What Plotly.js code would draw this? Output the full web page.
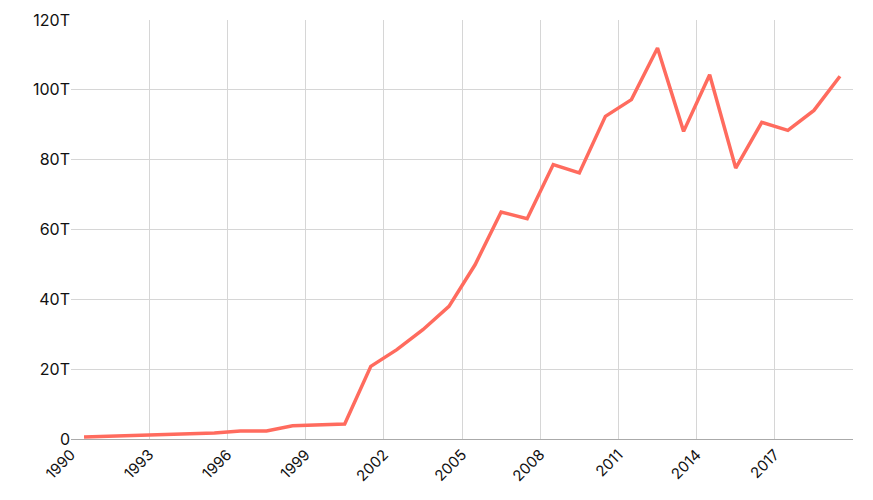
<!DOCTYPE html>
<html>
<head>
<meta charset="utf-8">
<script src="https://cdn.plot.ly/plotly-3.0.1.min.js"></script>
<style>html,body{margin:0;padding:0;background:#fff}#chart{width:873px;height:500px}</style>
</head>
<body>
<div id="chart"></div>
<script>
const years = ["1990","1991","1992","1993","1994","1995","1996","1997","1998","1999",
  "2000","2001","2002","2003","2004","2005","2006","2007","2008","2009",
  "2010","2011","2012","2013","2014","2015","2016","2017","2018","2019"];
// values in trillions
const valuesT = [0.6,0.8,1.0,1.2,1.5,1.7,2.3,2.3,3.8,4.1,
  4.3,20.8,25.6,31.3,38.0,49.9,65.0,63.1,78.6,76.2,
  92.4,97.2,112.0,88.1,104.3,77.6,90.7,88.4,94.1,103.9];
const xTickLabels = ["1990","1993","1996","1999","2002","2005","2008","2011","2014","2017"];
const yTickVals = [0,20,40,60,80,100,120];

const trace = {
  x: years,
  y: valuesT.map(v => v * 1e12),
  type: "scatter",
  mode: "lines",
  xperiod: "M12",
  xperiodalignment: "middle",
  line: {color: "#ff6b5e", width: 3.5},
  hoverinfo: "x+y"
};

const layout = {
  width: 873, height: 500,
  margin: {l: 71, r: 20, t: 20, b: 61},
  paper_bgcolor: "#fff", plot_bgcolor: "#fff",
  font: {family: "Inter, 'Open Sans', sans-serif", size: 16, color: "#111"},
  showlegend: false,
  xaxis: {
    type: "date",
    range: ["1990-01-01", "2020-01-01"],
    tickmode: "array",
    tickvals: xTickLabels.map(y => y + "-01-01"),
    ticktext: xTickLabels,
    tickangle: -45,
    showgrid: true, gridcolor: "#d6d6d6", gridwidth: 1,
    showline: true, linecolor: "#aaaaaa", linewidth: 1,
    ticks: "", zeroline: false,
    tickfont: {size: 15, color: "#111"}
  },
  yaxis: {
    range: [0, 120e12],
    tickvals: yTickVals.map(v => v * 1e12),
    tickformat: "~s",
    showgrid: true, gridcolor: "#d6d6d6", gridwidth: 1,
    showline: false, zeroline: false, ticks: "",
    tickfont: {size: 16, color: "#111"}
  }
};

Plotly.newPlot("chart", [trace], layout, {displayModeBar: false, staticPlot: true});
</script>
</body>
</html>
